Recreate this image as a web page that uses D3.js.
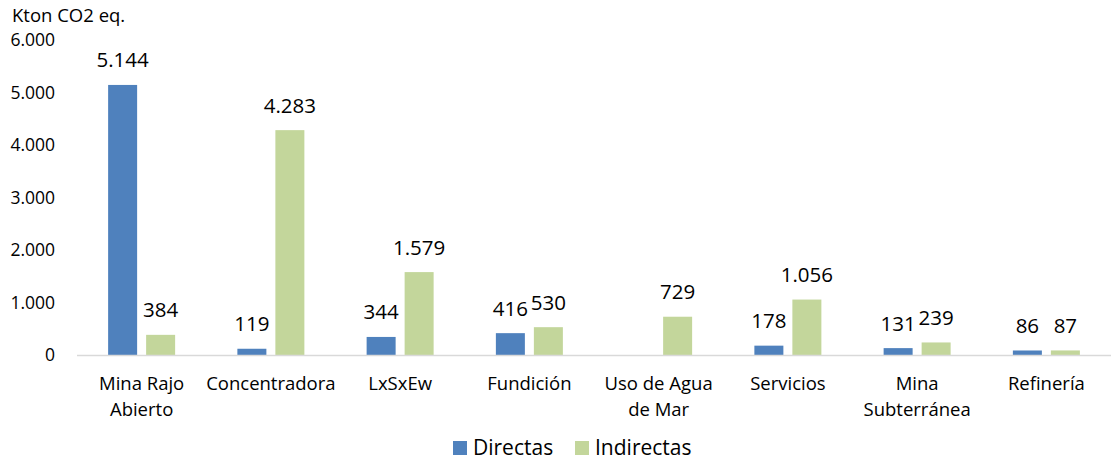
<!DOCTYPE html>
<html><head><meta charset="utf-8">
<script src="https://cdn.jsdelivr.net/npm/d3@7"></script>
<style>body{margin:0;background:#fff}svg{display:block}text{font-family:"Open Sans","Noto Sans",sans-serif;fill:#000}</style>
</head><body><svg id="c" width="1120" height="460"></svg>
<script>
const categories = [["Mina Rajo","Abierto"],["Concentradora"],["LxSxEw"],["Fundición"],["Uso de Agua","de Mar"],["Servicios"],["Mina","Subterránea"],["Refinería"]];
const directas = [5144, 119, 344, 416, null, 178, 131, 86];
const indirectas = [384, 4283, 1579, 530, 729, 1056, 239, 87];
const yTicks = [0, 1000, 2000, 3000, 4000, 5000, 6000];
const seriesNames = ["Directas", "Indirectas"];
const colors = ["#4F81BD", "#C3D69B"];
const unitLabel = "Kton CO2 eq.";

const svg = d3.select("#c");
const fmt = v => d3.format(",")(v).replace(/,/g, ".");
const x = d3.scaleBand().domain(d3.range(categories.length)).range([77, 1111]);
const y = d3.scaleLinear().domain([0, 6000]).range([355, 40]);
const barW = 29, off = 19;

// y axis
const yAxis = svg.append("g").attr("transform","translate(61,0)")
  .call(d3.axisLeft(y).tickValues(yTicks).tickSize(0).tickPadding(6).tickFormat(fmt));
yAxis.select(".domain").remove();
yAxis.selectAll("text").attr("font-size",17.5).attr("font-family","'Open Sans',sans-serif").attr("fill","#000");

svg.append("text").attr("x",12).attr("y",22).attr("font-size",18.5).text(unitLabel);

const series = [directas, indirectas];
series.forEach((vals, si) => {
  const g = svg.append("g");
  const data = vals.map((v,i)=>({v,i})).filter(d=>d.v!=null);
  g.selectAll("rect").data(data).enter().append("rect")
    .attr("x", d => x(d.i) + x.bandwidth()/2 + (si===0?-off:off) - barW/2)
    .attr("width", barW)
    .attr("y", d => y(d.v))
    .attr("height", d => y(0) - y(d.v))
    .attr("fill", colors[si]);
  g.selectAll("text").data(data).enter().append("text")
    .attr("x", d => x(d.i) + x.bandwidth()/2 + (si===0?-off:off))
    .attr("y", d => y(d.v) - 17.5)
    .attr("text-anchor","middle").attr("font-size",20.5)
    .text(d => fmt(d.v));
});

// x axis line
svg.append("line").attr("x1",77).attr("x2",1111).attr("y1",355.5).attr("y2",355.5)
  .attr("stroke","#D9D9D9").attr("stroke-width",1.5);

// category labels
const cg = svg.append("g");
categories.forEach((lines,i)=>{
  const t = cg.append("text").attr("x", x(i)+x.bandwidth()/2).attr("y",390)
    .attr("text-anchor","middle").attr("font-size",18.5);
  lines.forEach((l,k)=> t.append("tspan").attr("x", x(i)+x.bandwidth()/2).attr("dy", k===0?0:26).text(l));
});

// legend
const legX = [453, 575];
seriesNames.forEach((n,i)=>{
  svg.append("rect").attr("x",legX[i]).attr("y",441).attr("width",14).attr("height",14).attr("fill",colors[i]);
  svg.append("text").attr("x",legX[i]+20).attr("y",455).attr("font-size",21).text(n);
});
</script></body></html>
